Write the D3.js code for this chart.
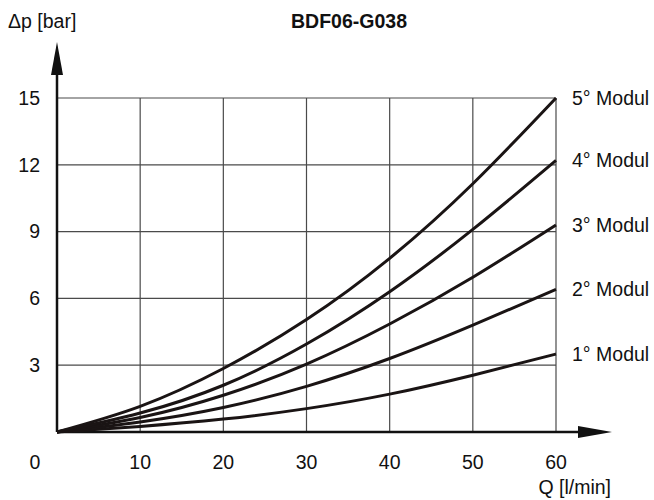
<!DOCTYPE html>
<head>
<meta charset="utf-8">
<style>
  html,body {
    margin: 0;
    background: white;
    font-family: "Liberation Sans", Arial, sans-serif;
  }
</style>
<script src="https://d3js.org/d3.v7.min.js"></script>
</head>
<body>
<div id="chart"></div>
<script>
// flow rate Q [l/min]
const flow = [0, 10, 20, 30, 40, 50, 60];
// pressure drop [bar] per module count
const modul1 = [0, 0.25, 0.58, 1.05, 1.7, 2.55, 3.5];
const modul2 = [0, 0.45, 1.1, 2.05, 3.3, 4.8, 6.4];
const modul3 = [0, 0.65, 1.65, 3.05, 4.85, 6.95, 9.3];
const modul4 = [0, 0.85, 2.1, 3.95, 6.3, 9.1, 12.2];
const modul5 = [0, 1.15, 2.85, 5.05, 7.8, 11.15, 15.0];
const seriesNames = ["1° Modul", "2° Modul", "3° Modul", "4° Modul", "5° Modul"];
const xTicks = [0, 10, 20, 30, 40, 50, 60];
const yTicks = [3, 6, 9, 12, 15];

const series = [modul1, modul2, modul3, modul4, modul5].map((vals, i) => ({
  name: seriesNames[i],
  points: vals.map((v, j) => ({q: flow[j], p: v}))
}));

var width = 654, height = 500,
    fontSize = "19.5px";

var svg = d3.select("#chart")
  .append("svg")
    .attr("width", width)
    .attr("height", height);

var x = d3.scaleLinear().domain([0, 60]).range([57, 556]);
var y = d3.scaleLinear().domain([0, 15]).range([432, 98]);

// grid
svg.append("g")
  .selectAll("line")
  .data(xTicks.slice(1))
  .enter()
  .append("line")
    .attr("x1", d => x(d)).attr("x2", d => x(d))
    .attr("y1", y(0)).attr("y2", y(15))
    .style("stroke", "#4a4a4a")
    .style("stroke-width", 1.2);

svg.append("g")
  .selectAll("line")
  .data(yTicks)
  .enter()
  .append("line")
    .attr("x1", x(0)).attr("x2", x(60))
    .attr("y1", d => y(d)).attr("y2", d => y(d))
    .style("stroke", "#4a4a4a")
    .style("stroke-width", 1.2);

// axes with arrows
svg.append("line")
  .attr("x1", x(0)).attr("x2", 590)
  .attr("y1", y(0)).attr("y2", y(0))
  .style("stroke", "#111").style("stroke-width", 2.5);
svg.append("path")
  .attr("d", `M612,${y(0)} L578,${y(0) - 6} L578,${y(0) + 6} Z`)
  .style("fill", "#111");

svg.append("line")
  .attr("x1", x(0)).attr("x2", x(0))
  .attr("y1", y(0)).attr("y2", 60)
  .style("stroke", "#111").style("stroke-width", 2.5);
svg.append("path")
  .attr("d", `M${x(0)},42 L${x(0) - 6},75 L${x(0) + 6},75 Z`)
  .style("fill", "#111");

// curves
var line = d3.line()
  .x(d => x(d.q))
  .y(d => y(d.p))
  .curve(d3.curveNatural);

svg.append("g")
  .selectAll("path")
  .data(series)
  .enter()
  .append("path")
    .attr("d", d => line(d.points))
    .style("fill", "none")
    .style("stroke", "#1a1414")
    .style("stroke-width", 3);

// series labels
svg.append("g")
  .selectAll("text")
  .data(series)
  .enter()
  .append("text")
    .attr("x", 572)
    .attr("y", d => y(d.points[d.points.length - 1].p))
    .attr("dy", "0.35em")
    .attr("font-size", fontSize)
    .attr("fill", "#111")
    .text(d => d.name);

// tick labels
svg.append("g")
  .selectAll("text")
  .data(xTicks)
  .enter()
  .append("text")
    .attr("x", d => d === 0 ? 35 : x(d))
    .attr("y", 469)
    .attr("text-anchor", "middle")
    .attr("font-size", fontSize)
    .attr("fill", "#111")
    .text(d => d);

svg.append("g")
  .selectAll("text")
  .data(yTicks)
  .enter()
  .append("text")
    .attr("x", 40)
    .attr("y", d => y(d))
    .attr("dy", "0.35em")
    .attr("text-anchor", "end")
    .attr("font-size", fontSize)
    .attr("fill", "#111")
    .text(d => d);

// titles
svg.append("text")
  .attr("x", 349).attr("y", 28)
  .attr("text-anchor", "middle")
  .attr("font-size", "19.5px")
  .attr("font-weight", "bold")
  .attr("fill", "#111")
  .text("BDF06-G038");

svg.append("text")
  .attr("x", 8).attr("y", 28)
  .attr("font-size", fontSize)
  .attr("fill", "#111")
  .text("Δp [bar]");

svg.append("text")
  .attr("x", 611).attr("y", 494)
  .attr("text-anchor", "end")
  .attr("font-size", fontSize)
  .attr("fill", "#111")
  .text("Q [l/min]");
</script>
</body>
</html>
